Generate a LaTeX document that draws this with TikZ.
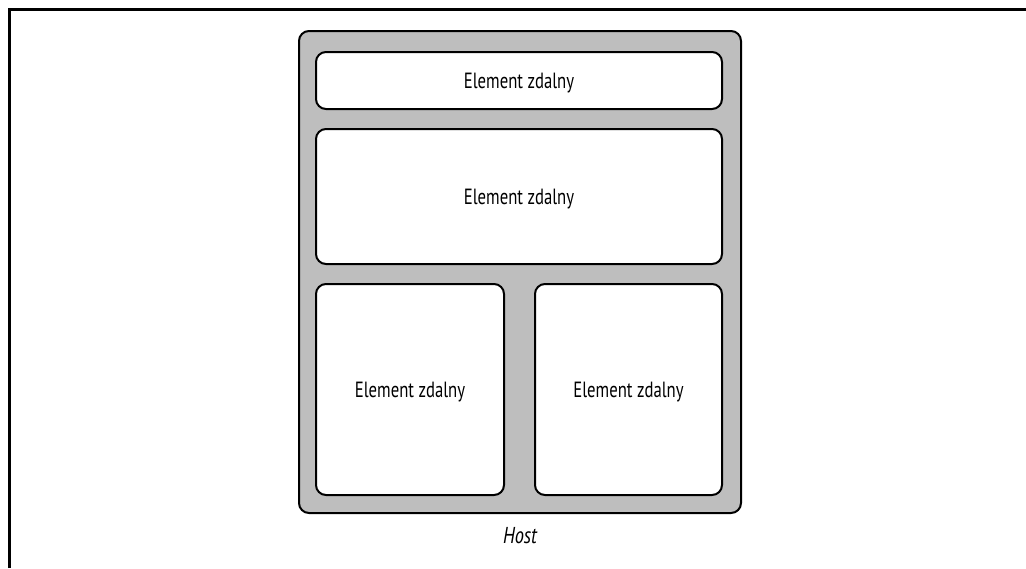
\documentclass[tikz,border=0pt]{standalone}
\usepackage{fontspec}
\setmainfont{PT Sans}
\usepackage{graphicx}
\begin{document}
\begin{tikzpicture}[x=1pt,y=-1pt,
  hostbox/.style={draw=black,line width=2pt,fill=hostgray,rounded corners=10pt,inner sep=0pt},
  remotebox/.style={draw=black,line width=2pt,fill=white,rounded corners=10pt,inner sep=0pt,text depth=0pt,font=\fontsize{22}{26}\selectfont},
  lbl/.style={inner sep=0pt,text depth=0pt,font=\fontsize{23}{27}\selectfont\itshape}]
\definecolor{hostgray}{HTML}{BEBEBE}
\useasboundingbox (0,0) rectangle (1026,568);
\draw[line width=3pt] (9,568) -- (9,9) -- (1026,9);
\node[hostbox,minimum width=442pt,minimum height=482pt] (host) at (520,272) {};
\node[remotebox,minimum width=406pt,minimum height=57pt] (r1) at (519,80.5) {\scalebox{0.76}[1]{Element zdalny}};
\node[remotebox,minimum width=406pt,minimum height=135pt] (r2) at (519,196.5) {\scalebox{0.76}[1]{Element zdalny}};
\node[remotebox,minimum width=188pt,minimum height=211pt] (r3) at (410,389.5) {\scalebox{0.76}[1]{Element zdalny}};
\node[remotebox,minimum width=187pt,minimum height=211pt] (r4) at (628.5,389.5) {\scalebox{0.76}[1]{Element zdalny}};
\node[lbl] (hostlbl) at (520,535) {\scalebox{0.8}[1]{Host}};
\end{tikzpicture}
\end{document}
